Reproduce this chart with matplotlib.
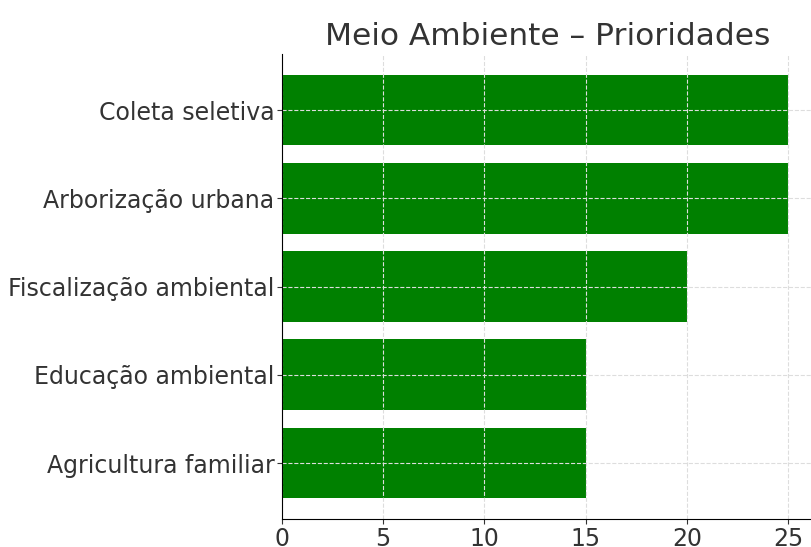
import matplotlib
matplotlib.use('Agg')
import matplotlib.pyplot as plt

# prioridades (de cima para baixo)
categorias = ['Coleta seletiva', 'Arborização urbana', 'Fiscalização ambiental',
              'Educação ambiental', 'Agricultura familiar']
valores = [25, 25, 20, 15, 15]

fig = plt.figure(figsize=(8.12, 5.47), dpi=100)
ax = fig.add_axes([0.3473, 0.0503, 0.6543, 0.8517])

ax.barh(categorias[::-1], valores[::-1], color='green', height=0.8)
ax.set_title('Meio Ambiente – Prioridades', fontsize=22.5, color='#333333', pad=6)

ax.grid(True, linestyle='--', color='#dddddd', linewidth=0.8)
ax.set_axisbelow(False)
ax.spines['top'].set_visible(False)
ax.spines['right'].set_visible(False)
for s in ax.spines.values():
    s.set_zorder(5)
ax.tick_params(labelsize=17, colors='#333333', pad=2)
ax.set_xticks([0, 5, 10, 15, 20, 25])

fig.savefig('out.png', dpi=100)
